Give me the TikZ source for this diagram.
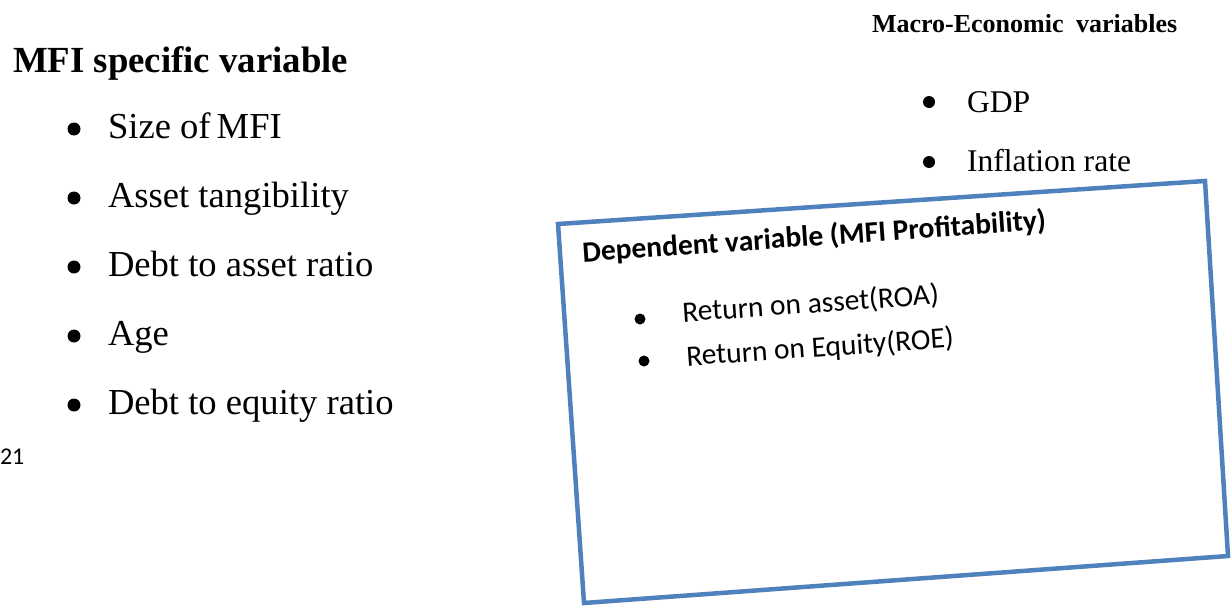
\documentclass[tikz,border=0pt]{standalone}
\usepackage{fontspec}
\setmainfont{Liberation Serif}
\newfontfamily\calfont{Carlito}
\definecolor{boxblue}{HTML}{4F81BD}
\tikzset{
  txt/.style={inner sep=0pt, outer sep=0pt, anchor=base west},
  dot/.style={circle, fill=black, inner sep=0pt, minimum size=#1},
  dot/.default=13pt,
  lefthead/.style={txt, font=\fontsize{36.8}{40}\selectfont\bfseries},
  leftitem/.style={txt, font=\fontsize{36.6}{40}\selectfont},
  righthead/.style={txt, font=\fontsize{26}{30}\selectfont\bfseries},
  rightitem/.style={txt, font=\fontsize{31.6}{35}\selectfont},
  boxhead/.style={txt, rotate=4, font=\calfont\fontsize{29.5}{32}\selectfont\bfseries},
  boxitem/.style={txt, rotate=4, font=\calfont\fontsize{29.5}{32}\selectfont},
  frame/.style={draw=boxblue, line width=4.5pt, line join=miter}
}
\begin{document}
\begin{tikzpicture}[x=1pt,y=-1pt]
\useasboundingbox (0,0) rectangle (1231,605);
% left column
\node[lefthead] (lh) at (13,72) {MFI specific variable};
\node[dot] (lb1) at (74,129) {};
\node[leftitem] (l1) at (108,138) {Size of\,MFI};
\node[dot] (lb2) at (74,198) {};
\node[leftitem] (l2) at (108,207) {Asset tangibility};
\node[dot] (lb3) at (74,267) {};
\node[leftitem] (l3) at (108,276) {Debt to asset ratio};
\node[dot] (lb4) at (74,336) {};
\node[leftitem] (l4) at (108,345) {Age};
\node[dot] (lb5) at (74,405) {};
\node[leftitem] (l5) at (108,414) {Debt to equity ratio};
\node[txt, font=\calfont\fontsize{24}{28}\selectfont] (pg) at (0,464) {21};
% right column
\node[righthead] (rh) at (872,32) {Macro-Economic\hspace{6pt} variables};
\node[dot=12pt] (rb1) at (929,102) {};
\node[rightitem] (r1) at (967,112) {GDP};
\node[dot=12pt] (rb2) at (929,162) {};
\node[rightitem] (r2) at (967,171) {Inflation rate};
% dependent variable box
\coordinate (c1) at (558,224);
\coordinate (c2) at (1205,181);
\coordinate (c3) at (1228,556);
\coordinate (c4) at (584,603);
\draw[frame] (c1) -- (c2) -- (c3) -- (c4) -- cycle;
\node[boxhead] (bh) at (583,262) {Dependent variable (MFI Profitability)};
\node[dot=11pt] (bb1) at (640,319) {};
\node[boxitem] (b1) at (683,322) {Return on asset(ROA)};
\node[dot=11pt] (bb2) at (644,361) {};
\node[boxitem] (b2) at (687,366) {Return on Equity(ROE)};
\end{tikzpicture}
\end{document}
